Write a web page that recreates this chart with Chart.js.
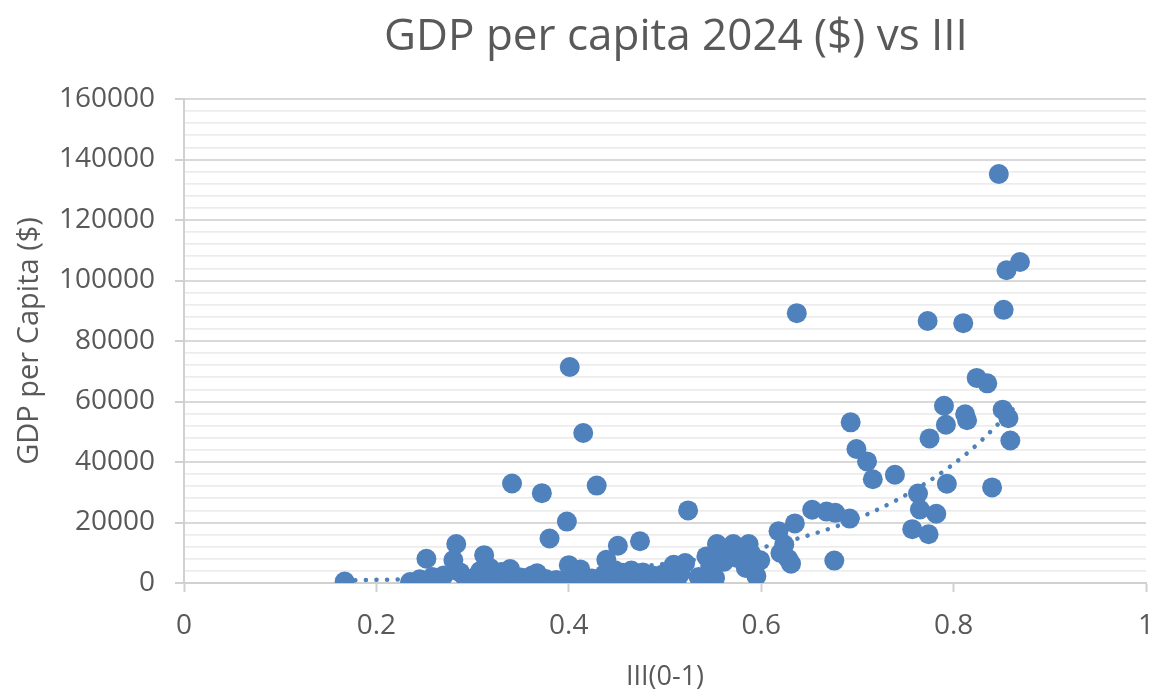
<!DOCTYPE html>
<html>
<head>
<meta charset="utf-8">
<title>GDP per capita 2024 ($) vs III</title>
<script src="https://cdn.jsdelivr.net/npm/chart.js@4/dist/chart.umd.min.js"></script>
<style>
  html, body { margin: 0; padding: 0; background: #ffffff; }
  #wrap { width: 1156px; height: 695px; }
</style>
</head>
<body>
<div id="wrap"><canvas id="chart" width="1156" height="695"></canvas></div>
<script>
// III score (0-1) for each country
const iiiScores = [
  0.167, 0.235, 0.245, 0.252, 0.258, 0.262, 0.270, 0.280, 0.283, 0.287,
  0.293, 0.300, 0.304, 0.308, 0.312, 0.315, 0.318, 0.322, 0.326, 0.330,
  0.334, 0.339, 0.341, 0.345, 0.350, 0.356, 0.362, 0.367, 0.372, 0.376,
  0.380, 0.387, 0.395, 0.398, 0.400, 0.401, 0.408, 0.412, 0.415, 0.420,
  0.424, 0.429, 0.432, 0.437, 0.439, 0.444, 0.448, 0.451, 0.456, 0.460,
  0.465, 0.470, 0.474, 0.477, 0.482, 0.488, 0.492, 0.497, 0.503, 0.509,
  0.512, 0.516, 0.521, 0.524, 0.535, 0.540, 0.543, 0.547, 0.552, 0.554,
  0.557, 0.561, 0.566, 0.571, 0.575, 0.580, 0.584, 0.587, 0.590, 0.595,
  0.599, 0.618, 0.620, 0.624, 0.628, 0.631, 0.635, 0.637, 0.653, 0.668,
  0.676, 0.677, 0.692, 0.693, 0.699, 0.710, 0.716, 0.739, 0.757, 0.763,
  0.765, 0.773, 0.774, 0.775, 0.782, 0.790, 0.792, 0.793, 0.810, 0.812,
  0.814, 0.824, 0.835, 0.840, 0.847, 0.851, 0.852, 0.855, 0.857, 0.859,
  0.869
];

// GDP per capita 2024 ($), same order as iiiScores
const gdpPerCapita = [
  500, 300, 1200, 8000, 2000, 800, 2500, 7600, 12900, 3500,
  1500, 600, 2200, 4000, 9200, 1000, 5000, 300, 2800, 3600,
  1200, 4600, 32900, 700, 1800, 400, 2500, 3200, 29700, 1300,
  14700, 1000, 800, 20300, 5900, 71400, 2600, 4500, 49600, 300,
  1500, 32200, 600, 2900, 7700, 1100, 4200, 12300, 3400, 2000,
  4100, 800, 13800, 3500, 1200, 2400, 500, 2700, 1700, 6000,
  700, 3200, 6600, 24000, 2000, 900, 8800, 5600, 1700, 12900,
  9800, 7000, 10400, 12900, 8300, 11000, 5000, 12900, 9500, 2300,
  7500, 17100, 9900, 12700, 8000, 6400, 19700, 89200, 24200, 23600,
  7400, 23200, 21300, 53100, 44300, 40200, 34300, 35800, 17800, 29600,
  24300, 86600, 16100, 47800, 22900, 58600, 52300, 32800, 85900, 55800,
  53800, 67800, 66000, 31600, 135200, 57300, 90300, 103400, 54500, 47100,
  106100
];

// Exponential trend line, sampled along its length
const trendIII = [0.167, 0.25, 0.35, 0.45, 0.55, 0.64, 0.713, 0.772, 0.817, 0.866];
const trendGDP = [830, 1400, 2500, 4700, 8600, 14900, 23100, 33200, 43700, 58800];

// Axis ticks
const xTickValues = [0, 0.2, 0.4, 0.6, 0.8, 1];
const yGridValues = [];
for (let v = 0; v <= 160000; v += 4000) yGridValues.push(v);
const yLabelStep = 20000;

const chartTitle = 'GDP per capita 2024 ($) vs III';
const textColor = '#595959';
const fontFamily = "'Open Sans', 'Liberation Sans', sans-serif";
const pointBlue = '#4f81bd';

const countryPoints = iiiScores.map((x, i) => ({ x: x, y: gdpPerCapita[i] }));
const trendPoints = trendIII.map((x, i) => ({ x: x, y: trendGDP[i] }));

const isMajor = (v) => v % yLabelStep === 0;

// Chart heading, centred a little right of the canvas middle
const headingPlugin = {
  id: 'heading',
  afterDraw(chart) {
    const ctx = chart.ctx;
    ctx.save();
    ctx.fillStyle = textColor;
    ctx.font = "44px " + fontFamily;
    ctx.textAlign = 'center';
    ctx.textBaseline = 'middle';
    ctx.fillText(chartTitle, 676, 37);
    ctx.restore();
  }
};

new Chart(document.getElementById('chart'), {
  type: 'scatter',
  data: {
    datasets: [
      {
        label: 'Trend',
        type: 'line',
        data: trendPoints,
        order: 0,
        borderColor: pointBlue,
        borderWidth: 4.5,
        borderDash: [0.1, 10.5],
        borderCapStyle: 'round',
        cubicInterpolationMode: 'monotone',
        pointRadius: 0,
        fill: false
      },
      {
        label: 'GDP per capita',
        data: countryPoints,
        order: 1,
        backgroundColor: pointBlue,
        borderColor: pointBlue,
        borderWidth: 0,
        pointRadius: 10,
        pointHoverRadius: 10
      }
    ]
  },
  plugins: [headingPlugin],
  options: {
    responsive: false,
    animation: false,
    layout: { padding: { left: 0, right: 0, top: 99, bottom: 0 } },
    plugins: {
      legend: { display: false },
      tooltip: { enabled: false },
      title: { display: false }
    },
    scales: {
      x: {
        type: 'linear',
        min: 0,
        max: 1,
        afterBuildTicks: (s) => { s.ticks = xTickValues.map(v => ({ value: v })); },
        afterFit: (s) => { s.height = 112; s.paddingRight = 10; s.paddingLeft = 0; },
        ticks: {
          color: textColor,
          font: { family: fontFamily, size: 28 },
          padding: 17,
          maxRotation: 0,
          autoSkip: false,
          callback: (v) => String(Number(v.toFixed(1)))
        },
        grid: {
          drawOnChartArea: false,
          drawTicks: true,
          tickLength: 9,
          tickColor: '#d0d0d0',
          tickWidth: 2,
          color: '#d0d0d0'
        },
        border: { display: true, color: '#d0d0d0', width: 2 },
        title: {
          display: true,
          text: 'III(0-1)',
          color: textColor,
          font: { family: fontFamily, size: 27, lineHeight: 1.2 },
          padding: { top: 0, bottom: 1 }
        }
      },
      y: {
        type: 'linear',
        min: 0,
        max: 160000,
        afterBuildTicks: (s) => { s.ticks = yGridValues.map(v => ({ value: v })); },
        afterFit: (s) => { s.width = 184; },
        ticks: {
          color: textColor,
          font: { family: fontFamily, size: 28 },
          padding: 20,
          autoSkip: false,
          callback: (v) => (isMajor(v) ? String(v) : '')
        },
        grid: {
          drawTicks: true,
          tickLength: 9,
          color: (c) => (c.tick && isMajor(c.tick.value) ? '#d9d9d9' : '#ececec'),
          lineWidth: (c) => (c.tick && isMajor(c.tick.value) ? 2 : 1.7),
          tickColor: (c) => (c.tick && isMajor(c.tick.value) ? '#d0d0d0' : 'rgba(0,0,0,0)'),
          tickWidth: 2
        },
        border: { display: true, color: '#d0d0d0', width: 2 },
        title: {
          display: true,
          text: 'GDP per Capita ($)',
          color: textColor,
          font: { family: fontFamily, size: 29, lineHeight: 1.2 },
          padding: { top: 12, bottom: 0 }
        }
      }
    }
  }
});
</script>
</body>
</html>
